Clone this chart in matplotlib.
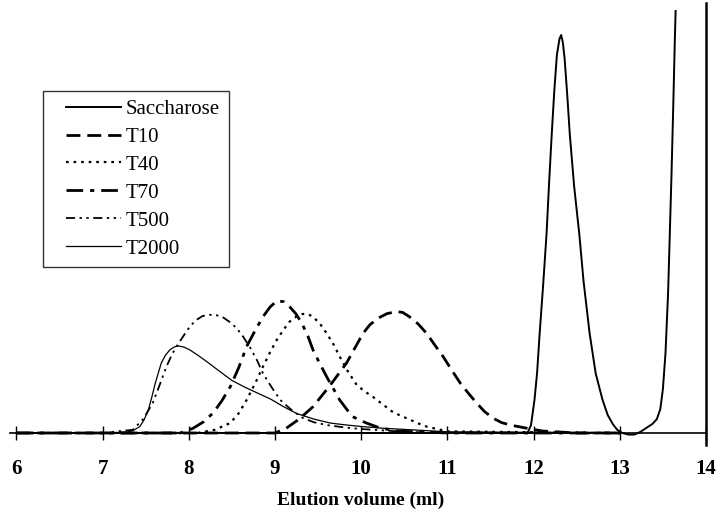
import matplotlib
matplotlib.use("Agg")
import matplotlib.pyplot as plt
from matplotlib.legend_handler import HandlerLine2D

# elution profiles (relative absorbance, saccharose peak = 100)
sac_x = [6.0, 11.93, 11.97, 12.01, 12.04, 12.07, 12.11, 12.15, 12.18, 12.21, 12.24,
         12.27, 12.30, 12.32, 12.34, 12.36, 12.39, 12.42, 12.47, 12.53, 12.58, 12.65,
         12.72, 12.8, 12.86, 12.92, 12.97, 13.03, 13.1, 13.17, 13.24, 13.31, 13.38,
         13.43, 13.47, 13.5, 13.53, 13.56, 13.58, 13.6, 13.62, 13.64, 13.65]
sac_y = [0, 0, 2, 8.3, 15, 25, 37, 50, 63, 75, 86,
         95, 99, 100, 98, 94, 85, 75, 62, 50, 38, 25,
         15, 8.3, 4.5, 2.2, 0.8, 0, -0.4, -0.4, 0.3, 1.3, 2.3,
         3.5, 6, 11, 20, 35, 50, 65, 82, 100, 108]

t10_x = [6.0, 9.0, 9.13, 9.28, 9.44, 9.64, 9.83, 9.93, 10.02, 10.1, 10.2, 10.3, 10.41,
         10.48, 10.56, 10.66, 10.76, 10.85, 10.95, 11.05, 11.15, 11.25, 11.34, 11.43,
         11.53, 11.63, 11.73, 11.92, 12.1, 12.5, 13.0]
t10_y = [0, 0, 1.2, 3.5, 6.6, 12.0, 17.6, 21.5, 25.0, 27.2, 28.9, 30.0, 30.5,
         30.3, 29.2, 27.4, 25.0, 22.2, 19.2, 15.8, 12.5, 9.8, 7.5, 5.4,
         3.7, 2.6, 2.0, 1.2, 0.5, 0, 0]

t40_x = [6.0, 8.1, 8.3, 8.48, 8.58, 8.67, 8.77, 8.86, 8.94, 9.02, 9.1, 9.17, 9.25,
         9.32, 9.38, 9.44, 9.52, 9.6, 9.68, 9.75, 9.85, 9.95, 10.05, 10.14, 10.25,
         10.35, 10.45, 10.55, 10.65, 10.76, 11.0, 13.0]
t40_y = [0, 0, 0.8, 2.5, 5.0, 8.3, 12.5, 16.7, 20.2, 23.4, 26.0, 28.0, 29.3,
         29.9, 29.9, 29.2, 27.5, 25.0, 22.2, 19.2, 15.3, 12.0, 10.3, 9.0, 7.2,
         5.5, 4.4, 3.5, 2.5, 1.6, 0.4, 0]

t70_x = [6.0, 7.9, 8.05, 8.17, 8.28, 8.38, 8.48, 8.58, 8.67, 8.77, 8.86, 8.94, 9.02,
         9.1, 9.17, 9.24, 9.31, 9.38, 9.44, 9.52, 9.6, 9.68, 9.75, 9.83, 9.9, 10.06,
         10.2, 10.4, 11.0, 13.0]
t70_y = [0, 0, 1.2, 2.8, 5.0, 8.0, 11.6, 16.5, 21.7, 25.8, 29.2, 31.6, 33.2,
         33.0, 31.7, 30.0, 27.6, 24.4, 20.9, 17.4, 14.1, 11.0, 8.3, 6.0, 4.1, 2.5,
         1.4, 0.5, 0, 0]

t500_x = [6.0, 7.0, 7.35, 7.47, 7.58, 7.66, 7.74, 7.81, 7.88, 7.95, 8.01, 8.08, 8.16,
          8.24, 8.32, 8.4, 8.48, 8.56, 8.63, 8.71, 8.79, 8.86, 8.96, 9.06, 9.19, 9.32,
          9.45, 9.6, 9.8, 10.0, 10.5, 11.0, 13.0]
t500_y = [0, 0, 0.8, 3.5, 7.5, 12.0, 16.7, 20.0, 22.5, 24.8, 26.7, 28.3, 29.4,
          29.7, 29.6, 29.0, 27.8, 26.2, 24.2, 21.5, 18.3, 15.0, 11.5, 8.3, 5.8, 3.8,
          2.7, 2.0, 1.4, 1.0, 0.3, 0, 0]

t2000_x = [6.0, 7.0, 7.28, 7.36, 7.43, 7.48, 7.53, 7.57, 7.61, 7.68, 7.73, 7.78, 7.83,
           7.87, 7.94, 8.01, 8.1, 8.21, 8.35, 8.5, 8.65, 8.8, 8.95, 9.1, 9.25, 9.45,
           9.64, 9.83, 10.02, 10.25, 10.5, 10.75, 11.0, 13.0]
t2000_y = [0, 0, 0.2, 0.7, 1.6, 3.3, 5.8, 9.0, 12.5, 17.6, 19.6, 20.9, 21.6,
           21.9, 21.6, 20.9, 19.6, 17.9, 15.6, 13.2, 11.5, 10.0, 8.5, 6.6, 4.9, 3.5,
           2.5, 2.0, 1.6, 1.2, 0.9, 0.6, 0.3, 0]

# marker line at the end of the run
end_x = [14, 14]
end_y = [-3, 108]

x_ticks = [6, 7, 8, 9, 10, 11, 12, 13, 14]

fig = plt.figure(figsize=(7.18, 5.17), dpi=100)
ax = fig.add_axes([0.01337, 0.124, 0.9759, 0.8568])

ax.plot(sac_x, sac_y, color='black', lw=1.4, label='Saccharose')
ax.plot(t10_x, t10_y, color='black', lw=2.0, dashes=(5, 2.5), label='T10')
ax.plot(t40_x, t40_y, color='black', lw=1.6, dashes=(1.2, 2.2), label='T40')
ax.plot(t70_x, t70_y, color='black', lw=2.0, dashes=(6, 2.5, 1.5, 2.5), label='T70')
ax.plot(t500_x, t500_y, color='black', lw=1.3, dashes=(5, 2.5, 1.3, 2.5, 1.3, 2.5), label='T500')
ax.plot(t2000_x, t2000_y, color='black', lw=0.9, label='T2000')
ax.plot(end_x, end_y, color='black', lw=1.8, clip_on=False)

ax.set_xlim(5.92, 14.05)
ax.set_ylim(-5, 106.3)

for s in ['left', 'right', 'top']:
    ax.spines[s].set_visible(False)
ax.spines['bottom'].set_position(('data', 0))
ax.spines['bottom'].set_bounds(5.93, 14)
ax.spines['bottom'].set_linewidth(1.2)

ax.set_yticks([])
ax.set_xticks(x_ticks)
ax.set_xticklabels([str(t) for t in x_ticks], fontfamily='Liberation Serif',
                   fontweight='bold', fontsize=15)
ax.tick_params(axis='x', direction='inout', length=10, width=1, pad=14)

fig.text(0.502, 1 - 500 / 517, 'Elution volume (ml)', ha='center', va='center',
         fontfamily='Liberation Serif', fontweight='bold', fontsize=14)

leg = ax.legend(loc='upper left', bbox_to_anchor=(43 / 718, 1 - 91 / 517),
                bbox_transform=fig.transFigure, borderaxespad=0,
                prop={'family': 'Liberation Serif', 'size': 15},
                borderpad=0.4, handlelength=3.35, handletextpad=0.24,
                labelspacing=0.4, fancybox=False, frameon=True,
                handler_map={plt.Line2D: HandlerLine2D(xpad=0.7)})
leg.get_frame().set_edgecolor('black')
leg.get_frame().set_linewidth(1.0)

fig.savefig('out.png', dpi=100)
